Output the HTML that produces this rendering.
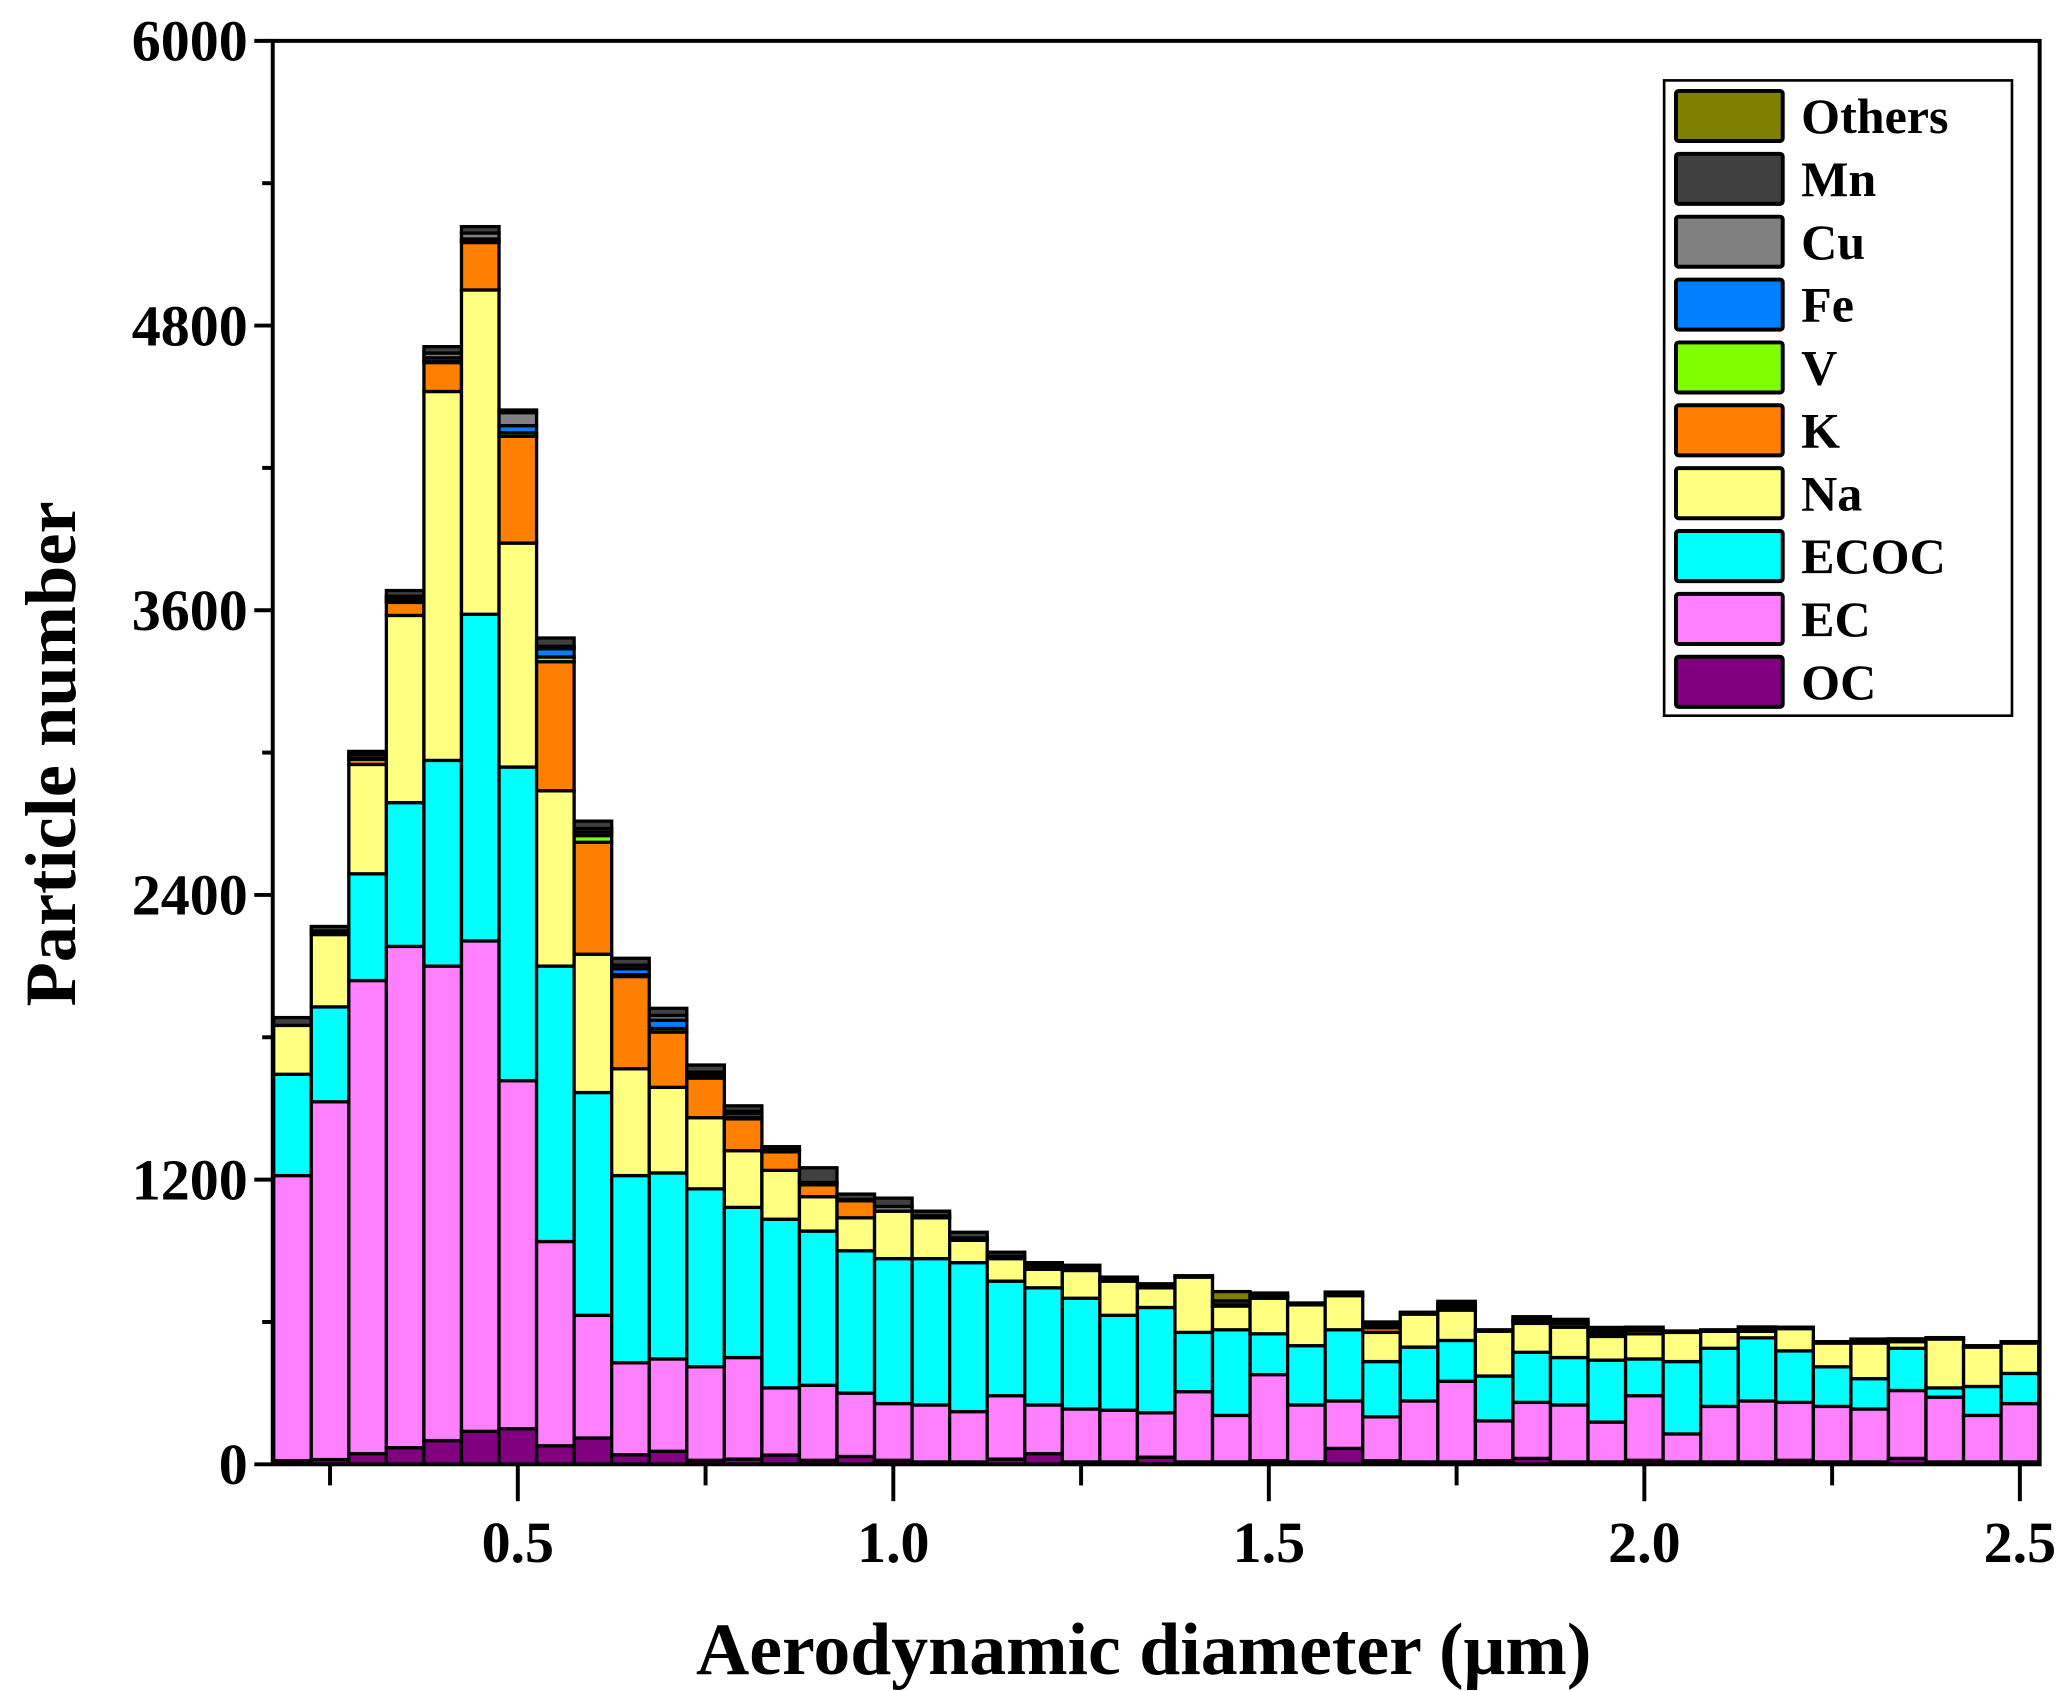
<!DOCTYPE html>
<html><head><meta charset="utf-8"><style>
html,body{margin:0;padding:0;background:#fff;}
svg{display:block;}
text{font-family:"Liberation Serif",serif;font-weight:bold;fill:#000;}
</style></head><body>
<svg id="chart" width="2066" height="1691" viewBox="0 0 1568 1283" preserveAspectRatio="none" xmlns="http://www.w3.org/2000/svg">
<g id="bars"></g>
<g id="axes"></g>
<g id="legend"></g>
<text x="0" y="0" font-size="55" text-anchor="middle" transform="translate(57,572) rotate(-90)">Particle number</text>
<text x="868" y="1270" font-size="56" text-anchor="middle">Aerodynamic diameter (μm)</text>
</svg>
<script>
const categories = [0.2,0.25,0.3,0.35,0.4,0.45,0.5,0.55,0.6,0.65,0.7,0.75,0.8,0.85,0.9,0.95,1.0,1.05,1.1,1.15,1.2,1.25,1.3,1.35,1.4,1.45,1.5,1.55,1.6,1.65,1.7,1.75,1.8,1.85,1.9,1.95,2.0,2.05,2.1,2.15,2.2,2.25,2.3,2.35,2.4,2.45,2.5];
const OC = [15,20,45,70,100,139,150,78,111,40,55,17,22,39,17,33,17,10,10,22,45,10,10,30,10,10,15,10,67,15,10,10,15,25,10,10,17,10,10,10,17,10,10,25,10,10,10];
const EC = [1202,1508,1994,2113,2000,2067,1467,861,517,388,389,394,428,283,316,267,239,240,212,267,205,223,218,187,296,196,363,240,200,185,257,340,168,236,240,168,272,118,234,257,244,234,223,286,273,196,246];
const ECOC = [427,400,450,606,867,1377,1322,1161,939,789,784,750,633,711,650,600,611,617,628,483,494,467,400,444,250,361,172,250,300,233,227,172,189,211,200,261,155,305,245,266,217,167,128,178,39,122,127];
const Na = [206,305,461,789,1555,1367,944,739,583,450,361,300,239,206,145,139,200,172,94,95,78,117,144,83,233,100,150,172,144,123,139,128,189,122,128,100,106,123,72,28,94,100,150,28,206,166,128];
const K = [0,10,22,55,122,200,450,544,472,389,233,167,134,78,50,72,0,0,0,0,12,0,0,0,0,0,5,0,0,20,0,10,0,10,15,10,15,0,0,10,0,0,0,0,0,0,0];
const V = [0,0,0,8,5,5,15,20,28,8,15,5,5,0,0,0,0,0,0,0,0,0,0,0,0,0,0,0,0,0,0,0,0,0,0,10,0,0,0,0,0,0,0,0,0,0,0];
const Fe = [0,0,5,8,15,10,30,35,15,25,35,10,17,5,0,0,0,0,0,0,0,0,0,0,0,0,0,0,0,0,0,0,0,0,0,0,0,0,0,0,0,0,0,0,0,0,0];
const Cu = [0,5,15,10,20,25,55,10,15,15,20,10,10,5,10,5,20,8,10,10,5,8,5,5,0,5,5,0,5,10,0,5,0,5,5,5,0,0,0,0,0,0,5,0,0,0,0];
const Mn = [33,19,13,24,27,27,11,35,31,29,30,30,23,12,62,23,35,20,24,17,11,14,12,12,6,17,12,8,10,14,8,12,6,13,13,8,13,6,6,8,6,6,12,12,6,6,6];
const Others = [0,0,0,0,0,0,0,0,0,0,0,0,0,0,0,0,0,0,0,0,0,0,0,0,0,39,0,0,0,0,0,10,0,0,0,5,0,0,0,0,0,0,0,0,0,0,0];
const seriesNames = ["OC","EC","ECOC","Na","K","V","Fe","Cu","Mn","Others"];
const seriesColors = ["#800080","#ff80ff","#00ffff","#ffff80","#ff8000","#80ff00","#0080ff","#808080","#404040","#808000"];
const yTicks = [0,1200,2400,3600,4800,6000];
const xTicks = [0.5,1.0,1.5,2.0,2.5];
const xTickLabels = ["0.5","1.0","1.5","2.0","2.5"];

const seriesData = [OC,EC,ECOC,Na,K,V,Fe,Cu,Mn,Others];
const NS="http://www.w3.org/2000/svg";
const L=207,R=1548,T=31,B=1111;
const X0=0.1737, XPX=570;
function xs(v){return L+(v-X0)*XPX;}
function ys(v){return B-(v/6000)*(B-T);}
const barW=0.05;
function mk(tag,attrs,parent){const e=document.createElementNS(NS,tag);for(const k in attrs)e.setAttribute(k,attrs[k]);parent.appendChild(e);return e;}

const gb=document.getElementById('bars');
categories.forEach((c,i)=>{
  let cum=0;
  seriesData.forEach((arr,s)=>{
    const v=arr[i]; if(!v) return;
    const y1=ys(cum+v), y0=ys(cum);
    const r=mk('rect',{x:xs(c-barW/2),y:y1,width:xs(c+barW/2)-xs(c-barW/2),height:y0-y1,fill:seriesColors[s],stroke:'#000','stroke-width':2.5},gb);
    
    
    cum+=v;
  });
});

const ga=document.getElementById('axes');
mk('rect',{x:L,y:T,width:R-L,height:B-T,fill:'none',stroke:'#000','stroke-width':3},ga);
for(let v=0;v<=6000;v+=600){
  const major=v%1200===0;
  mk('line',{x1:L,x2:L-(major?14:8),y1:ys(v),y2:ys(v),stroke:'#000','stroke-width':3},ga);
}
yTicks.forEach(v=>{
  const t=mk('text',{x:L-19,y:ys(v)+15,'font-size':44,'text-anchor':'end'},ga);
  t.textContent=v;
  
  
});
for(let v=0.25;v<=2.51;v+=0.25){
  const major=Math.abs(v*2-Math.round(v*2))<1e-6;
  mk('line',{x1:xs(v),x2:xs(v),y1:B,y2:B+(major?28:16),stroke:'#000','stroke-width':3},ga);
}
xTicks.forEach((v,i)=>{
  const t=mk('text',{x:xs(v),y:1185,'font-size':44,'text-anchor':'middle'},ga);
  t.textContent=xTickLabels[i];
  
  
});

const gl=document.getElementById('legend');
mk('rect',{x:1263,y:61,width:264,height:482,fill:'#fff',stroke:'#000','stroke-width':2},gl);
for(let k=0;k<10;k++){
  const s=9-k; const cy=88+k*47.7;
  const sw=mk('rect',{x:1272,y:cy-19,width:81,height:38,rx:2,fill:seriesColors[s],stroke:'#000','stroke-width':3},gl);
  
  
  const t=mk('text',{x:1367,y:cy+13,'font-size':38},gl);
  t.textContent=seriesNames[s];
  
  
}
</script>
</body></html>
